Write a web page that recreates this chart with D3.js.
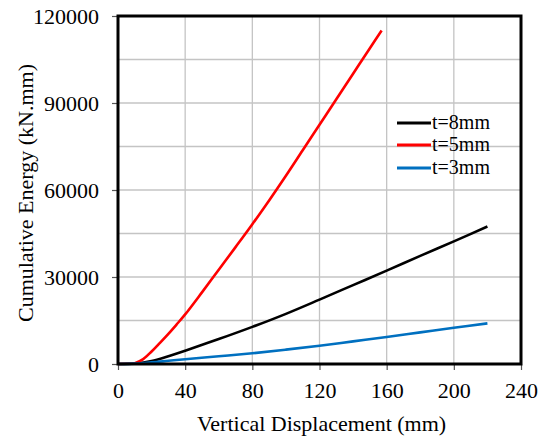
<!DOCTYPE html>
<html>
<head>
<meta charset="utf-8">
<script src="https://cdn.jsdelivr.net/npm/d3@7"></script>
<style>
  body { margin: 0; background: #fff; }
  text { font-family: "Liberation Serif", "DejaVu Serif", serif; fill: #000; }
</style>
</head>
<body>
<svg id="chart" width="542" height="440"></svg>
<script>
// energy curves (x: mm, y: kN.mm)
const t8_x = [0, 10, 20, 30, 40, 60, 80, 100, 120, 140, 160, 180, 200, 220];
const t8_y = [0, 150, 1000, 2700, 4600, 8600, 12800, 17300, 22200, 27200, 32200, 37300, 42300, 47400];

const t5_x = [0, 5, 10, 15, 20, 25, 30, 35, 40, 50, 60, 70, 80, 90, 100, 110, 120, 130, 140, 150, 157];
const t5_y = [0, 60, 300, 1700, 4300, 7300, 10400, 13700, 17100, 24700, 32500, 40300, 48200, 56400, 64900, 73700, 82500, 91300, 100100, 108900, 115000];

const t3_x = [0, 10, 20, 30, 40, 60, 80, 100, 120, 140, 160, 180, 200, 220];
const t3_y = [0, 120, 550, 1100, 1650, 2650, 3700, 4950, 6300, 7800, 9300, 10900, 12500, 14000];

const seriesNames = ["t=8mm", "t=5mm", "t=3mm"];
const seriesColors = ["#000000", "#ff0000", "#0070c0"];

const xTicks = [0, 40, 80, 120, 160, 200, 240];
const yTicks = [0, 30000, 60000, 90000, 120000];
const yGrid = d3.range(0, 120001, 15000);

const margin = {left: 118, right: 21, top: 16, bottom: 76};
const width = 542, height = 440;

const x = d3.scaleLinear().domain([0, 240]).range([margin.left, width - margin.right]);
const y = d3.scaleLinear().domain([0, 120000]).range([height - margin.bottom, margin.top]);

const svg = d3.select("#chart");

// grid
svg.append("g")
    .selectAll("line")
    .data(xTicks.slice(1, -1))
    .join("line")
    .attr("x1", d => x(d)).attr("x2", d => x(d))
    .attr("y1", y(120000)).attr("y2", y(0))
    .attr("stroke", "#c4c4c4").attr("stroke-width", 1.3);

svg.append("g")
    .selectAll("line")
    .data(yGrid.slice(1, -1))
    .join("line")
    .attr("x1", x(0)).attr("x2", x(240))
    .attr("y1", d => y(d)).attr("y2", d => y(d))
    .attr("stroke", "#c4c4c4").attr("stroke-width", 1.3);

// axes
const xAxis = svg.append("g")
    .attr("transform", `translate(0,${y(0)})`)
    .call(d3.axisBottom(x).tickValues(xTicks).tickSize(6).tickPadding(12).tickFormat(d3.format("d")));
const yAxis = svg.append("g")
    .attr("transform", `translate(${x(0)},0)`)
    .call(d3.axisLeft(y).tickValues(yTicks).tickSize(6).tickPadding(13).tickFormat(d3.format("d")));

[xAxis, yAxis].forEach(a => {
    a.attr("font-family", null);
    a.select(".domain").remove();
    a.selectAll(".tick line").attr("stroke", "#555").attr("stroke-width", 1.2);
    a.selectAll("text")
        .style("font-family", "'Liberation Serif', serif")
        .style("font-size", "22px")
        .attr("fill", "#000");
});
yAxis.selectAll("text").attr("dy", "0.34em");

// curves
const line = d3.line()
    .x(d => x(d[0]))
    .y(d => y(d[1]))
    .curve(d3.curveCatmullRom.alpha(0.5));

const series = [
    d3.zip(t8_x, t8_y),
    d3.zip(t5_x, t5_y),
    d3.zip(t3_x, t3_y)
];

svg.append("g")
    .selectAll("path")
    .data(series)
    .join("path")
    .attr("d", line)
    .attr("fill", "none")
    .attr("stroke", (d, i) => seriesColors[i])
    .attr("stroke-width", 2.6);

// frame
svg.append("rect")
    .attr("x", x(0)).attr("y", y(120000))
    .attr("width", x(240) - x(0)).attr("height", y(0) - y(120000))
    .attr("fill", "none")
    .attr("stroke", "#000").attr("stroke-width", 3);

// legend
const legY = [123, 145, 168];
const leg = svg.append("g")
    .selectAll("g")
    .data(seriesNames)
    .join("g")
    .attr("transform", (d, i) => `translate(397,${legY[i]})`);
leg.append("line")
    .attr("x1", 0).attr("x2", 34)
    .attr("stroke", (d, i) => seriesColors[i])
    .attr("stroke-width", 3);
leg.append("text")
    .attr("x", 35).attr("y", 6)
    .style("font-size", "20px")
    .text(d => d);

// titles
svg.append("text")
    .attr("x", (x(0) + x(240)) / 2 + 2).attr("y", 431)
    .attr("text-anchor", "middle")
    .style("font-size", "22px")
    .text("Vertical Displacement (mm)");

svg.append("text")
    .attr("transform", `translate(33,${(y(0) + y(120000)) / 2 + 3}) rotate(-90)`)
    .attr("text-anchor", "middle")
    .style("font-size", "22px")
    .text("Cumulative Energy (kN.mm)");
</script>
</body>
</html>
